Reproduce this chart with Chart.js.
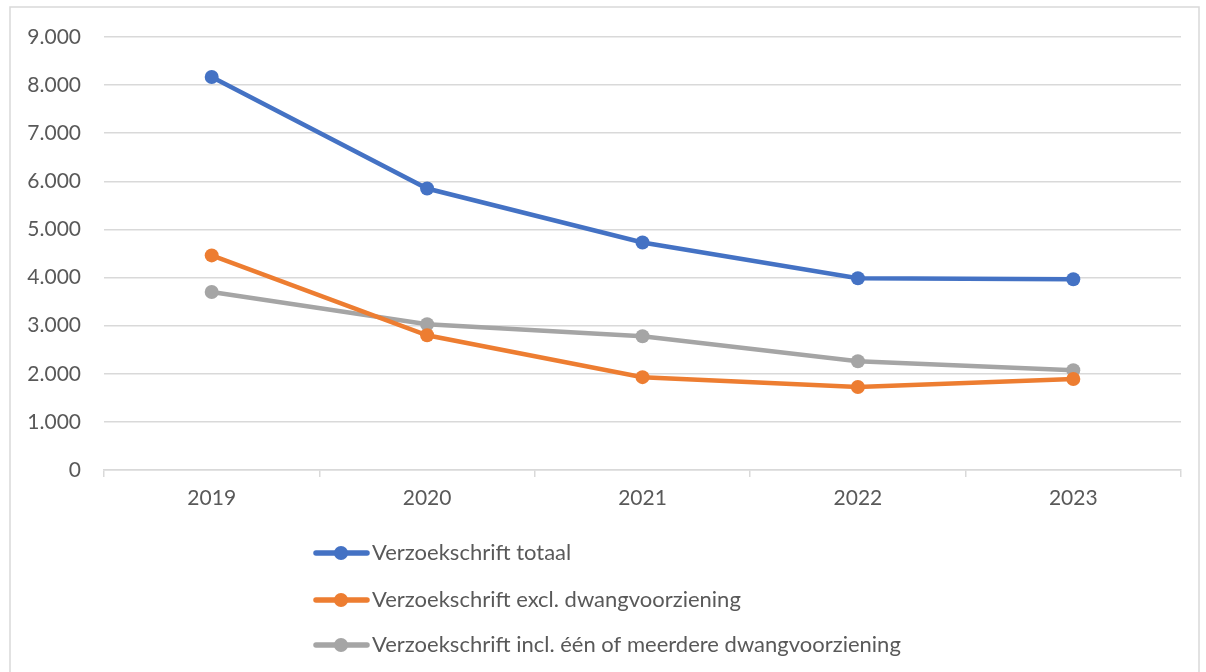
<!DOCTYPE html>
<html>
<head>
<meta charset="utf-8">
<script src="https://cdn.jsdelivr.net/npm/chart.js@4/dist/chart.umd.min.js"></script>
<style>
  html, body { margin: 0; padding: 0; background: #ffffff; }
  #wrap { position: relative; width: 1206px; height: 672px; }
</style>
</head>
<body>
<div id="wrap"><canvas id="c" width="1206" height="672"></canvas></div>
<script>
const categories = ['2019', '2020', '2021', '2022', '2023'];
const seriesNames = [
  'Verzoekschrift totaal',
  'Verzoekschrift excl. dwangvoorziening',
  'Verzoekschrift incl. één of meerdere dwangvoorziening'
];
const totaal = [8170, 5850, 4730, 3985, 3965];
const exclDwang = [4460, 2800, 1930, 1725, 1890];
const inclDwang = [3700, 3030, 2780, 2260, 2075];
const colors = ['#4472C4', '#ED7D31', '#A5A5A5'];

const FONT = 'Lato, "Open Sans", sans-serif';
const TEXT = '#595959';

function nlFormat(v) {
  return String(Math.round(v)).replace(/\B(?=(\d{3})+(?!\d))/g, '.');
}

const frameAndLegend = {
  id: 'frameAndLegend',
  beforeDraw(chart) {
    const ctx = chart.ctx;
    ctx.save();
    ctx.strokeStyle = '#d9d9d9';
    ctx.lineWidth = 1.5;
    ctx.strokeRect(10, 7, 1189, 700);
    ctx.restore();
  },
  afterDraw(chart) {
    const ctx = chart.ctx;
    const rows = [553, 600, 645];
    ctx.save();
    chart.data.datasets.forEach((ds, i) => {
      const y = rows[i];
      ctx.strokeStyle = ds.borderColor;
      ctx.lineWidth = 5.5;
      ctx.lineCap = 'round';
      ctx.beginPath();
      ctx.moveTo(316, y);
      ctx.lineTo(367, y);
      ctx.stroke();
      ctx.fillStyle = ds.borderColor;
      ctx.beginPath();
      ctx.arc(341, y, 7, 0, Math.PI * 2);
      ctx.fill();
      ctx.fillStyle = TEXT;
      ctx.font = '22px ' + FONT;
      ctx.textBaseline = 'middle';
      ctx.textAlign = 'left';
      ctx.fillText(ds.label, 372, y);
    });
    ctx.restore();
  }
};

const datasets = [totaal, exclDwang, inclDwang].map((vals, i) => ({
  label: seriesNames[i],
  data: vals,
  borderColor: colors[i],
  backgroundColor: colors[i],
  borderWidth: 4.5,
  pointRadius: 7,
  pointHoverRadius: 7,
  pointBackgroundColor: colors[i],
  pointBorderWidth: 0,
  tension: 0
}));

new Chart(document.getElementById('c'), {
  type: 'line',
  data: { labels: categories, datasets: datasets },
  options: {
    responsive: false,
    animation: false,
    events: [],
    layout: { padding: { left: 0, top: 37, right: 25, bottom: 152 } },
    plugins: {
      legend: { display: false },
      tooltip: { enabled: false },
      title: { display: false }
    },
    scales: {
      x: {
        offset: true,
        grid: {
          offset: true,
          drawOnChartArea: false,
          drawTicks: true,
          tickLength: 7,
          color: '#d9d9d9',
          lineWidth: 1.5
        },
        border: { display: true, color: '#d9d9d9', width: 1.5 },
        ticks: {
          color: TEXT,
          font: { family: FONT, size: 21 },
          padding: 9,
          maxRotation: 0
        },
        afterFit(s) { s.height = 50; }
      },
      y: {
        min: 0,
        max: 9000,
        grid: {
          color: '#d9d9d9',
          lineWidth: 1.5,
          drawTicks: false
        },
        border: { display: false },
        ticks: {
          stepSize: 1000,
          color: TEXT,
          font: { family: FONT, size: 21 },
          padding: 23,
          callback: (v) => nlFormat(v)
        },
        afterFit(s) { s.width = 104; }
      }
    }
  },
  plugins: [frameAndLegend]
});
</script>
</body>
</html>
